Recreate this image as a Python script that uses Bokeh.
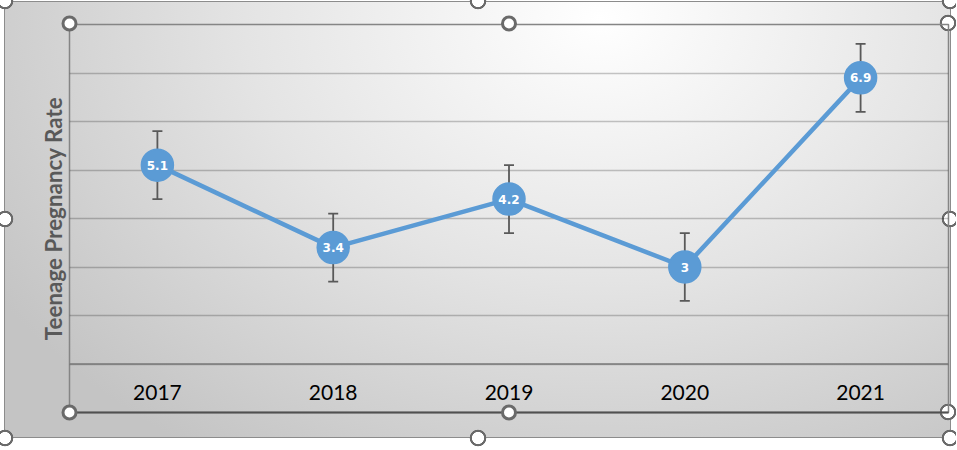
from bokeh.plotting import figure
from bokeh.models import (ColumnDataSource, Range1d, FactorRange, FixedTicker, Whisker,
                          TeeHead, Span)
from bokeh.core.properties import value
from bokeh.embed import file_html
from bokeh.resources import INLINE

# ---- data ----
years = ["2017", "2018", "2019", "2020", "2021"]
rates = [5.1, 3.4, 4.4, 3.0, 6.9]
rate_labels = ["5.1", "3.4", "4.2", "3", "6.9"]
errors = [0.7, 0.7, 0.7, 0.7, 0.7]
y_title = "Teenage Pregnancy Rate"

BLUE = "#5B9BD5"
BORDER = "#8c8c8c"
HANDLE = "#6a6a6a"

src = ColumnDataSource(dict(
    year=years, rate=rates, label=rate_labels,
    upper=[r + e for r, e in zip(rates, errors)],
    lower=[r - e for r, e in zip(rates, errors)],
))

W, H = 956, 448                     # canvas
BX0, BY0, BX1, BY1 = 4, 1, 951, 438  # chart-area box
FL, FT, FR, FB = 69, 24, 948, 412    # plot-area frame

p = figure(
    x_range=FactorRange(*years, range_padding=0),
    y_range=Range1d(0, 8),
    width=W, height=H,
    output_backend="svg", toolbar_location=None,
    min_border_left=FL, min_border_right=W - FR, min_border_top=FT, min_border_bottom=H - FB,
)

# chart-area decoration (Excel look): gradient box, border, selection handles
def css_handle(cx, cy):
    return (f"radial-gradient(circle at {cx}px {cy}px, #ffffff 0 5.8px, {HANDLE} 6.3px 8px, "
            f"transparent 8.6px)")

line = f"linear-gradient({BORDER},{BORDER})"
bw, bh = BX1 - BX0, BY1 - BY0
cx_mid = (BX0 + BX1) // 2 + 1
cy_mid = (BY0 + BY1) // 2
outer_handles = [(BX0 + 1, BY0), (cx_mid, BY0), (BX1 - 1, BY0), (BX0 + 1, cy_mid), (BX1 - 1, cy_mid),
                 (BX0 + 1, BY1), (cx_mid, BY1), (BX1 - 1, BY1), (FR, FT - 1), (FR, FB)]
layers = [css_handle(x, y) for x, y in outer_handles]
layers += [
    f"{line} {BX0}px {BY0}px / {bw}px 1px no-repeat",
    f"{line} {BX0}px {BY1 - 1}px / {bw}px 1px no-repeat",
    f"{line} {BX0}px {BY0}px / 1px {bh}px no-repeat",
    f"{line} {BX1 - 1}px {BY0}px / 1px {bh}px no-repeat",
    f"radial-gradient(ellipse 75% 120% at 63% 4%, #ffffff 0%, #e4e4e4 50%, #c4c4c4 100%) "
    f"{BX0}px {BY0}px / {bw}px {bh}px no-repeat",
]
p.styles = {"margin": "0", "background": ", ".join(layers)}
p.background_fill_alpha = 0
p.border_fill_alpha = 0
p.outline_line_color = "#858585"
p.outline_line_width = 1.5

# grid
p.xgrid.grid_line_color = None
p.ygrid.ticker = FixedTicker(ticks=[1, 2, 3, 4, 5, 6, 7, 8])
p.ygrid.grid_line_color = "#000000"
p.ygrid.grid_line_alpha = 0.22
p.ygrid.grid_line_width = 1.5
p.add_layout(Span(location=1, dimension="width", line_color="#7a7a7a", line_width=1.5))

# axes
p.yaxis.ticker = FixedTicker(ticks=[])
p.yaxis.axis_line_color = None
p.yaxis.major_tick_line_color = None
p.yaxis.minor_tick_line_color = None
p.yaxis.major_label_text_font_size = "0px"
p.yaxis.axis_label = y_title
p.yaxis.axis_label_text_font = "Lato"
p.yaxis.axis_label_text_font_style = "bold"
p.yaxis.axis_label_text_font_size = "22.4px"
p.yaxis.axis_label_text_color = "#595959"
p.yaxis.axis_label_standoff = 3

p.xaxis.axis_line_color = "#505050"
p.xaxis.axis_line_width = 2
p.xaxis.major_tick_line_color = None
p.xaxis.minor_tick_line_color = None
p.xaxis.major_label_text_font = "Lato"
p.xaxis.major_label_text_font_size = "21px"
p.xaxis.major_label_text_color = "#000000"
p.xaxis.major_label_standoff = -34

# error bars
w = Whisker(source=src, base="year", upper="upper", lower="lower", dimension="height",
            line_color="#595959", line_width=1.8,
            upper_head=TeeHead(size=10, line_color="#595959", line_width=1.8),
            lower_head=TeeHead(size=10, line_color="#595959", line_width=1.8),
            level="underlay")
p.add_layout(w)

# series
p.line("year", "rate", source=src, line_color=BLUE, line_width=4.5)
p.scatter("year", "rate", source=src, size=32, fill_color=BLUE, line_color=BLUE, line_width=1.5)
p.text("year", "rate", text="label", source=src, text_color="white",
       text_font=value("DejaVu Sans"), text_font_style="bold", text_font_size="12px",
       text_align="center", text_baseline="middle")

# plot-area selection handles (left and centre; right ones are in the CSS layer)
p.scatter(x=[0, 2.5, 0, 2.5], y=[8.02, 8.02, 0, 0], size=13,
          fill_color="white", line_color=HANDLE, line_width=3, level="overlay")

open("out.html", "w").write(file_html(p, INLINE))
